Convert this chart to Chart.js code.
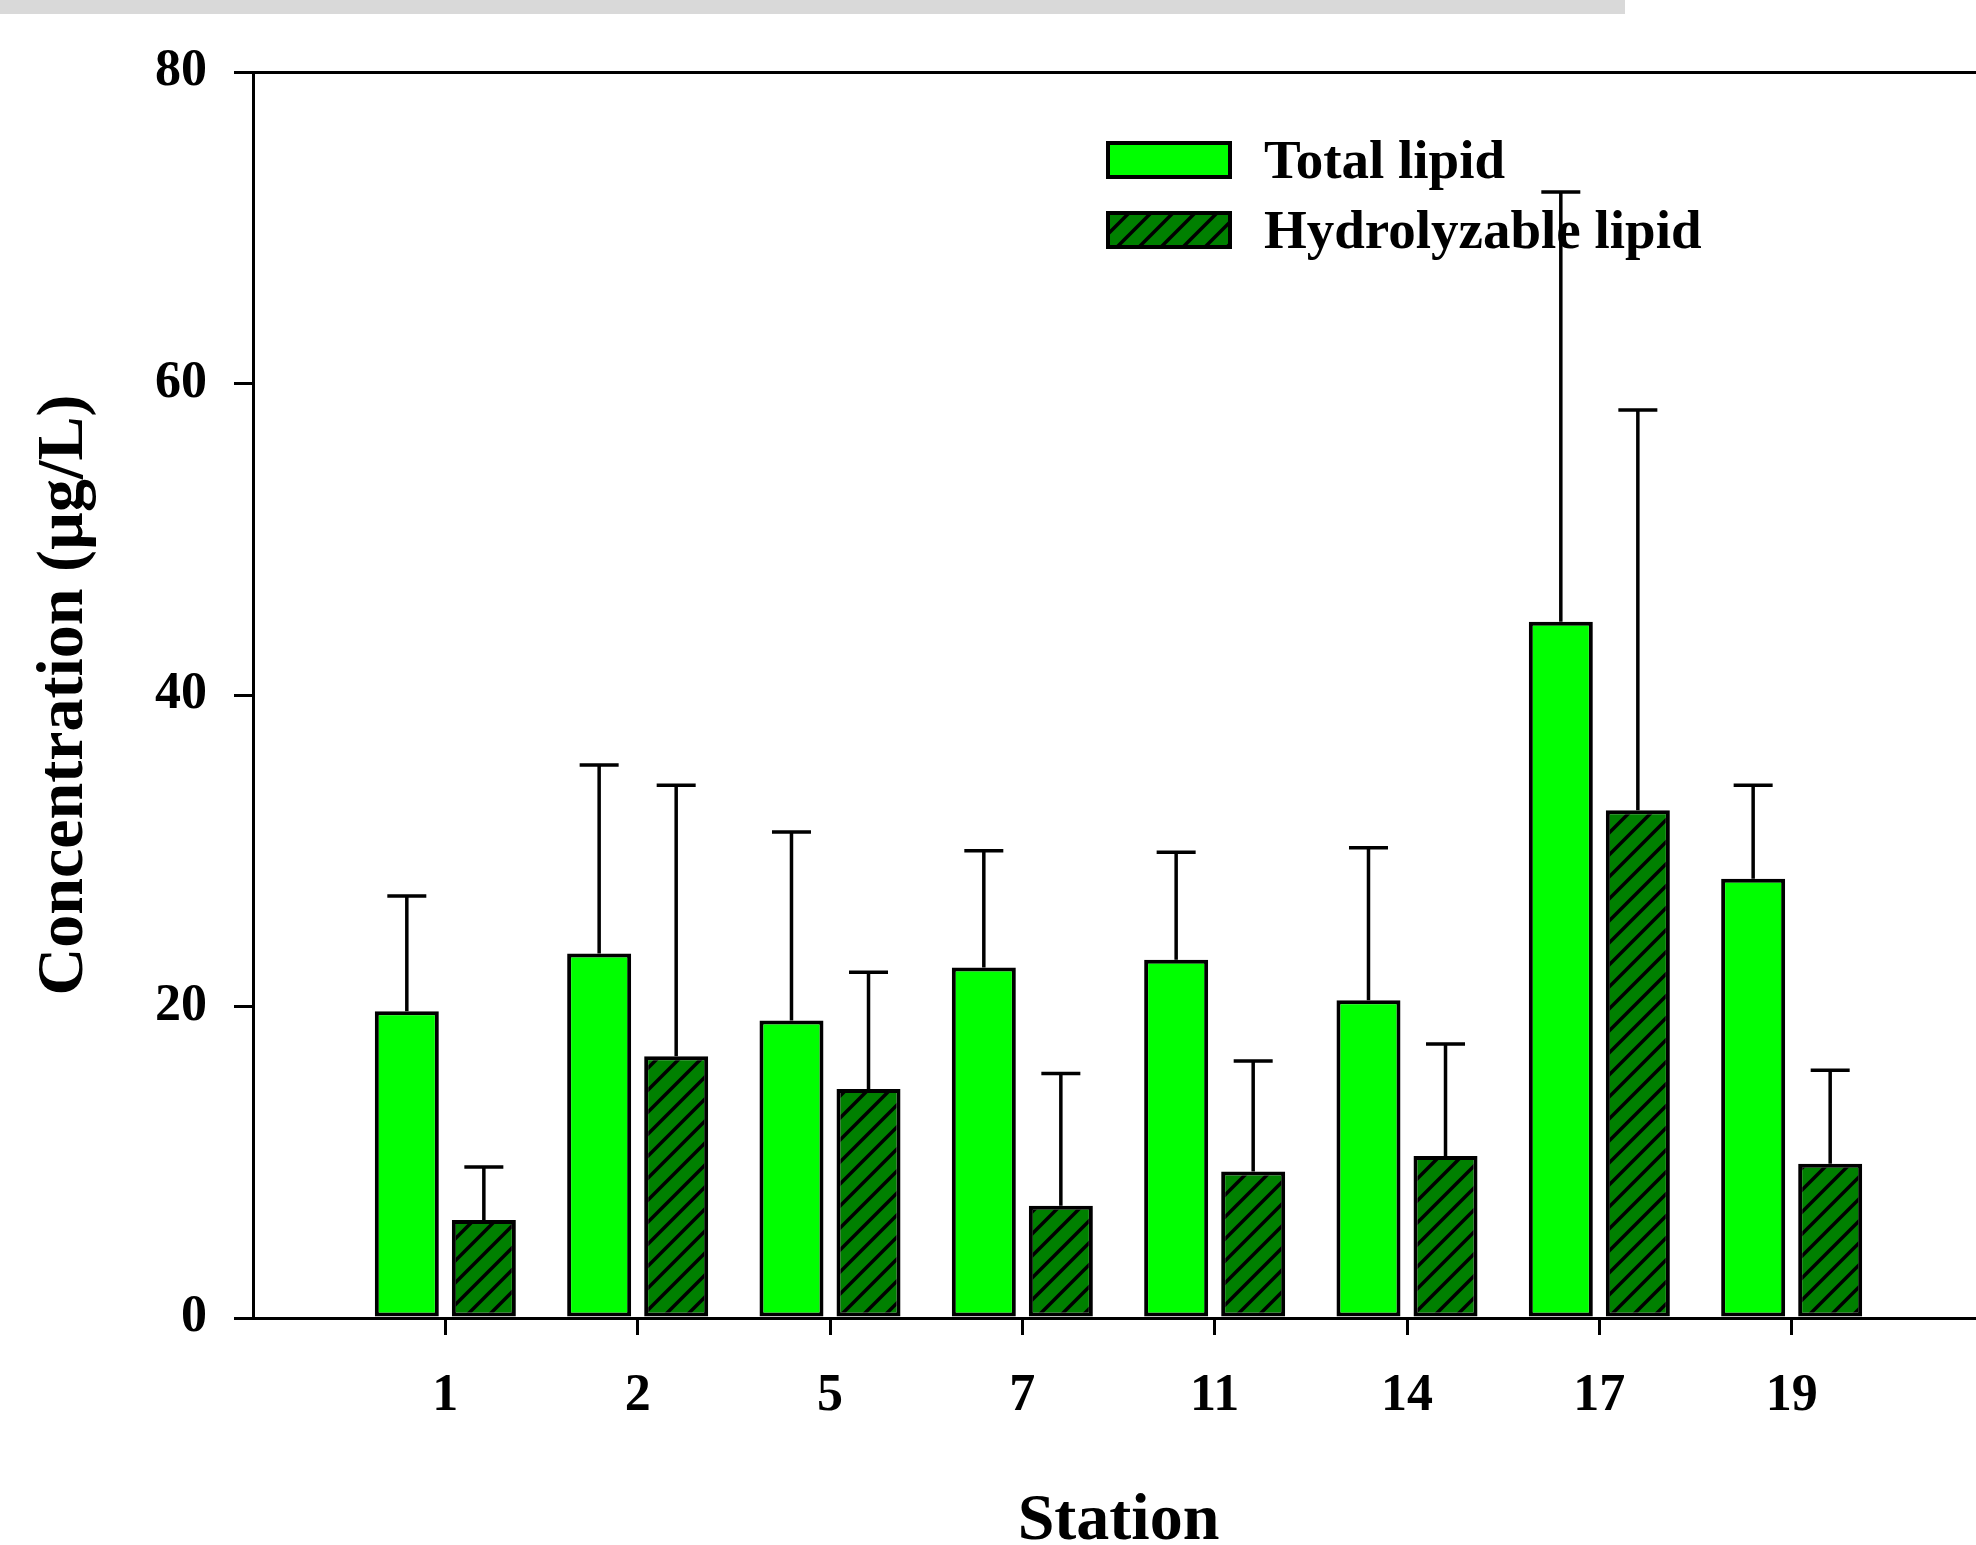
<!DOCTYPE html>
<html>
<head>
<meta charset="utf-8">
<script src="https://cdn.jsdelivr.net/npm/chart.js@4.4.1/dist/chart.umd.min.js"></script>
<style>
    html, body { margin: 0; padding: 0; background: #fff; overflow: hidden; }
    #top_bar { position: absolute; left: 0; top: 0; width: 1625px; height: 14px; background: #d9d9d9; z-index: 2; }
    #lipid_chart { position: absolute; left: 0; top: 0; }
</style>
</head>
<body>
<div id="top_bar"></div>
<canvas id="lipid_chart" width="2014" height="1545"></canvas>
<script>
// Data
var stations = ["1", "2", "5", "7", "11", "14", "17", "19"];
var totalLipid = [19.7, 23.4, 19.1, 22.5, 23.0, 20.4, 44.7, 28.2];
var totalLipidSd = [7.4, 12.1, 12.1, 7.5, 6.9, 9.8, 27.6, 6.0];
var hydroLipid = [6.3, 16.8, 14.7, 7.2, 9.4, 10.4, 32.6, 9.9];
var hydroLipidSd = [3.4, 17.4, 7.5, 8.5, 7.1, 7.2, 25.7, 6.0];
var yTicks = [0, 20, 40, 60, 80];

var serif = "'Liberation Serif', 'Times New Roman', serif";

// empty slot before the first and after the last station
function pad(arr, blank) {
    return [blank].concat(arr).concat([blank]);
}

function make_hatch() {
    var s = 22;
    var c = document.createElement("canvas");
    c.width = s;
    c.height = s;
    var g = c.getContext("2d");
    g.fillStyle = "#008000";
    g.fillRect(0, 0, s, s);
    g.strokeStyle = "#000";
    g.lineWidth = 3.5;
    g.beginPath();
    g.moveTo(0, s); g.lineTo(s, 0);
    g.moveTo(-s / 2, s / 2); g.lineTo(s / 2, -s / 2);
    g.moveTo(s / 2, s * 1.5); g.lineTo(s * 1.5, s / 2);
    g.stroke();
    return g.createPattern(c, "repeat");
}

function init_chart() {
    var ctx = document.getElementById("lipid_chart").getContext("2d");
    var hatch = make_hatch();
    var errors = [pad(totalLipidSd, null), pad(hydroLipidSd, null)];

    // Error bars (upper only)
    var errorBars = {
        id: "errorBars",
        afterDatasetsDraw: function (chart) {
            var g = chart.ctx;
            var y = chart.scales.y;
            g.save();
            g.strokeStyle = "#000";
            g.lineWidth = 3.5;
            chart.data.datasets.forEach(function (ds, di) {
                var meta = chart.getDatasetMeta(di);
                meta.data.forEach(function (bar, i) {
                    var v = ds.data[i];
                    if (v == null) return;
                    var top = y.getPixelForValue(v + errors[di][i]);
                    g.beginPath();
                    g.moveTo(bar.x, bar.y);
                    g.lineTo(bar.x, top);
                    g.moveTo(bar.x - 19.5, top);
                    g.lineTo(bar.x + 19.5, top);
                    g.stroke();
                });
            });
            g.restore();
        }
    };

    // Legend, drawn under the error bars
    var boxLegend = {
        id: "boxLegend",
        beforeDatasetsDraw: function (chart) {
            var g = chart.ctx;
            var rows = [141, 211];
            g.save();
            chart.data.datasets.forEach(function (ds, di) {
                var top = rows[di];
                g.fillStyle = ds.backgroundColor;
                g.fillRect(1106, top, 126, 38);
                g.strokeStyle = "#000";
                g.lineWidth = 4;
                g.strokeRect(1108, top + 2, 122, 34);
                g.fillStyle = "#000";
                g.font = "bold 55px " + serif;
                g.textAlign = "left";
                g.textBaseline = "alphabetic";
                g.fillText(ds.label, 1264, top + 37);
            });
            g.restore();
        }
    };

    var data = {
        labels: pad(stations, ""),
        datasets: [{
            label: "Total lipid",
            data: pad(totalLipid, null),
            backgroundColor: "#00ff00",
            borderColor: "#000",
            borderWidth: 4,
            borderSkipped: false
        }, {
            label: "Hydrolyzable lipid",
            data: pad(hydroLipid, null),
            backgroundColor: hatch,
            borderColor: "#000",
            borderWidth: 4,
            borderSkipped: false
        }]
    };

    var options = {
        responsive: false,
        animation: false,
        devicePixelRatio: 1,
        layout: { padding: { top: 72, left: 0, right: 0, bottom: 0 } },
        categoryPercentage: 0.801,
        barPercentage: 0.831,
        plugins: {
            legend: { display: false },
            tooltip: { enabled: false }
        },
        scales: {
            x: {
                offset: false,
                grid: {
                    offset: false,
                    drawOnChartArea: false,
                    tickLength: 17,
                    lineWidth: 3,
                    tickColor: function (c) {
                        return (c.index === 0 || c.index === stations.length + 1) ? "rgba(0,0,0,0)" : "#000";
                    }
                },
                border: { color: "#000", width: 3 },
                ticks: {
                    autoSkip: false,
                    maxRotation: 0,
                    padding: 30,
                    color: "#000",
                    font: { family: serif, size: 52, weight: "bold" }
                },
                title: {
                    display: true,
                    text: "Station",
                    color: "#000",
                    font: { family: serif, size: 66, weight: "bold", lineHeight: 0.8 },
                    padding: { top: 0, bottom: -3 }
                },
                afterFit: function (scale) { scale.height = 227; }
            },
            y: {
                min: 0,
                max: 80,
                afterBuildTicks: function (scale) {
                    scale.ticks = yTicks.map(function (v) { return { value: v }; });
                },
                grid: {
                    lineWidth: 3,
                    tickLength: 19,
                    tickColor: "#000",
                    color: function (c) {
                        return c.tick && c.tick.value === 80 ? "#000" : "rgba(0,0,0,0)";
                    }
                },
                border: { color: "#000", width: 3 },
                ticks: {
                    padding: 27,
                    color: "#000",
                    font: { family: serif, size: 52, weight: "bold" }
                },
                title: {
                    display: true,
                    text: "Concentration (µg/L)",
                    color: "#000",
                    font: { family: serif, size: 66, weight: "bold", lineHeight: 1.2 },
                    padding: { top: 25, bottom: 0 }
                },
                afterFit: function (scale) { scale.width = 253; }
            }
        }
    };

    new Chart(ctx, {
        type: "bar",
        data: data,
        options: options,
        plugins: [boxLegend, errorBars]
    });
}

init_chart();
</script>
</body>
</html>
